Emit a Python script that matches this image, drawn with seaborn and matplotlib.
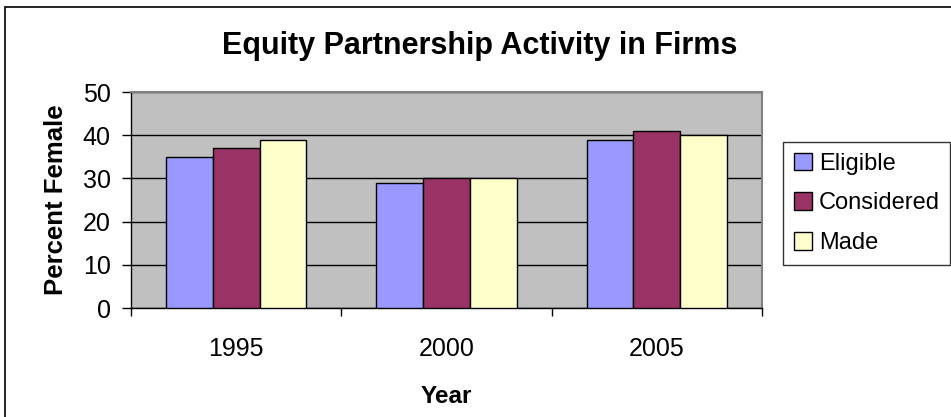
import pandas as pd
import matplotlib.pyplot as plt
import seaborn as sns
from matplotlib.patches import Rectangle

years = ['1995', '2000', '2005']
eligible = [35, 29, 39]
considered = [37, 30, 41]
made = [39, 30, 40]
series = ['Eligible', 'Considered', 'Made']
colors = {'Eligible': '#9999FF', 'Considered': '#993366', 'Made': '#FFFFCC'}

df = pd.DataFrame({
    'Year': years * 3,
    'Series': ['Eligible'] * 3 + ['Considered'] * 3 + ['Made'] * 3,
    'Value': eligible + considered + made,
})

sns.set_style('white')
plt.rcParams['font.family'] = ['Liberation Sans', 'DejaVu Sans']
plt.rcParams['text.color'] = 'black'
plt.rcParams['axes.labelcolor'] = 'black'
plt.rcParams['xtick.color'] = 'black'
plt.rcParams['ytick.color'] = 'black'

fig = plt.figure(figsize=(9.51, 4.17), dpi=100)
ax = fig.add_axes([131 / 951, 1 - 308 / 417, 631 / 951, 216 / 417])
ax.set_facecolor('#C0C0C0')

sns.barplot(data=df, x='Year', y='Value', hue='Series', hue_order=series,
            palette=colors, width=0.667, edgecolor='black', linewidth=1,
            saturation=1, ax=ax, zorder=3)

ax.set_ylim(0, 50)
ax.set_xlim(-0.5, 2.5)
ax.set_yticks(range(0, 51, 10))
ax.yaxis.grid(True, color='black', linewidth=1, zorder=1)
ax.set_axisbelow(True)

# tick marks between categories, labels at centres
ax.set_xticks([-0.5, 0.5, 1.5, 2.5], minor=True)
ax.tick_params(axis='x', which='minor', bottom=True, length=6, width=1, direction='out')
ax.tick_params(axis='x', which='major', bottom=True, length=0, pad=21, labelsize=18)
ax.tick_params(axis='y', left=True, length=6.5, width=1, direction='out', pad=8, labelsize=18)

for side in ['left', 'bottom']:
    ax.spines[side].set_color('black')
    ax.spines[side].set_linewidth(1)
for side in ['top', 'right']:
    ax.spines[side].set_color('#808080')
    ax.spines[side].set_linewidth(1.5)

ax.set_xlabel('Year', fontsize=17.5, fontweight='bold', labelpad=17)
ax.set_ylabel('Percent Female', fontsize=18.5, fontweight='bold', labelpad=11)
fig.text(480 / 951, 1 - 54 / 417, 'Equity Partnership Activity in Firms',
         fontsize=22, fontweight='bold', ha='center', va='baseline')

handles, labels = ax.get_legend_handles_labels()
leg = ax.legend(handles, labels, loc='upper left', bbox_to_anchor=(783 / 951, 1 - 142 / 417),
                bbox_transform=fig.transFigure, frameon=True, fancybox=False,
                edgecolor='black', fontsize=17, handlelength=0.76, handleheight=0.76,
                handletextpad=0.3, labelspacing=0.75, borderpad=0.45, borderaxespad=0)
leg.get_frame().set_linewidth(1)

fig.patches.append(Rectangle((5 / 951, -0.05), 1.05, 1 - 7 / 417 + 0.05,
                             transform=fig.transFigure, fill=False,
                             edgecolor='black', linewidth=1.2, zorder=0))

plt.savefig('out.png', dpi=100)
plt.close()
